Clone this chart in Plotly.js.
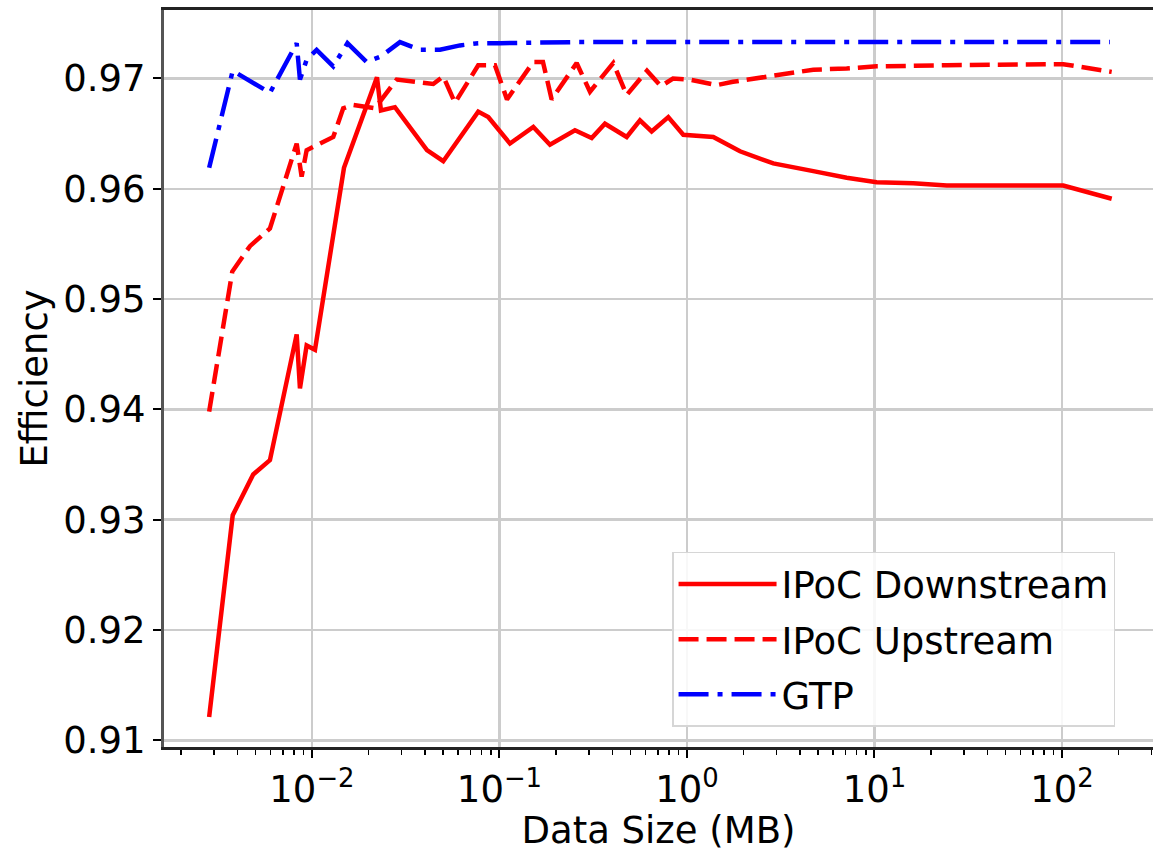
<!DOCTYPE html>
<html>
<head>
<meta charset="utf-8">
<script src="https://cdn.plot.ly/plotly-3.0.1.min.js"></script>
<style>html,body{margin:0;padding:0;background:#fff}#chart{width:1153px;height:852px}</style>
</head>
<body>
<div id="chart"></div>
<script>
// ---- Data ----
const downX = [0.00283, 0.00378, 0.00486, 0.00597, 0.00829, 0.00863, 0.00937, 0.01038, 0.01482, 0.02222,
  0.02334, 0.02771, 0.04105, 0.05016, 0.07704, 0.08717, 0.11376, 0.15155, 0.18591, 0.25271,
  0.3103, 0.36524, 0.47697, 0.56154, 0.64801, 0.79487, 0.95566, 1.3816, 1.9176, 2.8862,
  4.7174, 7.1073, 10.273, 16.103, 24.277, 55.0, 101.6, 184.1];
const downY = [0.9121, 0.9304, 0.9341, 0.9354, 0.9468, 0.9419, 0.9458, 0.9454, 0.9619, 0.9701,
  0.9671, 0.9674, 0.9635, 0.9625, 0.9670, 0.9665, 0.9641, 0.9656, 0.9640, 0.9653,
  0.9646, 0.9659, 0.9647, 0.9662, 0.9652, 0.9665, 0.9649, 0.9647, 0.9634, 0.9623,
  0.9616, 0.9610, 0.9606, 0.9605, 0.9603, 0.9603, 0.9603, 0.9591];

const upX = [0.00283, 0.00376, 0.00467, 0.00597, 0.00829, 0.00881, 0.00937, 0.01299, 0.01468, 0.01661,
  0.02168, 0.02829, 0.04436, 0.05016, 0.05791, 0.07704, 0.09462, 0.10965, 0.15155, 0.17061,
  0.18984, 0.258, 0.30392, 0.40448, 0.47697, 0.6118, 0.72661, 0.84197, 1.0375, 1.4404,
  1.7592, 3.1333, 4.7174, 7.1073, 10.273, 24.277, 55.0, 101.6, 184.1];
const upY = [0.9398, 0.9525, 0.9548, 0.9564, 0.9641, 0.9611, 0.9635, 0.9647, 0.9673, 0.9676,
  0.9673, 0.9699, 0.9695, 0.9702, 0.9678, 0.9712, 0.9712, 0.9681, 0.9715, 0.9715,
  0.9681, 0.9714, 0.9688, 0.9714, 0.9685, 0.9707, 0.9693, 0.9700, 0.9699, 0.9694,
  0.9697, 0.9703, 0.9708, 0.9709, 0.9711, 0.9712, 0.9713, 0.9713, 0.9706];

const gtpX = [0.00283, 0.00378, 0.00597, 0.00829, 0.00863, 0.00937, 0.01059, 0.01299, 0.01546, 0.01957,
  0.02334, 0.02947, 0.03767, 0.04816, 0.06155, 0.0770, 0.1006, 0.25, 1.0, 10.0, 100.0, 180.3];
const gtpY = [0.9619, 0.9707, 0.9687, 0.9732, 0.9699, 0.9717, 0.9726, 0.9711, 0.9732, 0.9715,
  0.9720, 0.9733, 0.9726, 0.9726, 0.9730, 0.9732, 0.9732, 0.9733, 0.9733, 0.9733, 0.9733, 0.9733];

const seriesNames = ['IPoC Downstream', 'IPoC Upstream', 'GTP'];
const xTickVals = [0.01, 0.1, 1, 10, 100];
const xTickText = ['10<sup>\u22122</sup>', '10<sup>\u22121</sup>', '10<sup>0</sup>', '10<sup>1</sup>', '10<sup>2</sup>'];
const yTickVals = [0.91, 0.92, 0.93, 0.94, 0.95, 0.96, 0.97];
const yTickText = ['0.91', '0.92', '0.93', '0.94', '0.95', '0.96', '0.97'];

// minor tick positions (2..9 per decade)
const minorVals = [];
for (let e = -3; e <= 2; e++) for (let m = 2; m <= 9; m++) minorVals.push(m * Math.pow(10, e));

const FONT = 'DejaVu Sans, sans-serif';
const FS = 37;

const traces = [
  {x: downX, y: downY, name: seriesNames[0], mode: 'lines', legendgroup: 'a',
   line: {color: '#ff0000', width: 4.5, dash: 'solid'}},
  {x: upX, y: upY, name: seriesNames[1], mode: 'lines', legendgroup: 'b',
   line: {color: '#ff0000', width: 4.5, dash: '20px,8px'}},
  {x: gtpX, y: gtpY, name: seriesNames[2], mode: 'lines', legendgroup: 'c',
   line: {color: '#0000ff', width: 4.5, dash: '30px,9px,5px,9px'}}
];

const layout = {
  width: 1153, height: 852,
  margin: {l: 164, r: 0, t: 10, b: 105},
  paper_bgcolor: '#ffffff', plot_bgcolor: '#ffffff',
  font: {family: FONT, size: FS, color: '#000'},
  showlegend: true,
  xaxis: {
    type: 'log', range: [-2.789, 2.4853],
    tickmode: 'array', tickvals: xTickVals, ticktext: xTickText,
    ticks: 'outside', ticklen: 8, tickwidth: 2, tickcolor: '#000',
    showgrid: true, gridcolor: '#cccccc', gridwidth: 2.5,
    showline: true, linecolor: '#222', linewidth: 3, mirror: true,
    zeroline: false,
    tickfont: {family: FONT, size: FS},
    minor: {tickmode: 'array', tickvals: minorVals, ticks: 'outside', ticklen: 5, tickwidth: 1.5, tickcolor: '#000', showgrid: false},
    title: {text: 'Data Size (MB)', font: {family: FONT, size: FS}, standoff: 6}
  },
  yaxis: {
    range: [0.90939, 0.97621],
    tickmode: 'array', tickvals: yTickVals, ticktext: yTickText,
    ticks: 'outside', ticklen: 8, tickwidth: 2, tickcolor: '#000',
    showgrid: true, gridcolor: '#cccccc', gridwidth: 2.5,
    showline: true, linecolor: '#555', linewidth: 3, mirror: false,
    zeroline: false,
    tickfont: {family: FONT, size: FS},
    title: {text: 'Efficiency', font: {family: FONT, size: FS}, standoff: 5}
  },
  legend: {
    x: 0.5137, y: 0.2646, xanchor: 'left', yanchor: 'top',
    bgcolor: 'rgba(255,255,255,0.85)', bordercolor: '#d6d6d6', borderwidth: 1.5,
    font: {family: FONT, size: FS}, itemwidth: 98, tracegroupgap: 4
  }
};

Plotly.newPlot('chart', traces, layout, {displayModeBar: false, staticPlot: true});
</script>
</body>
</html>
